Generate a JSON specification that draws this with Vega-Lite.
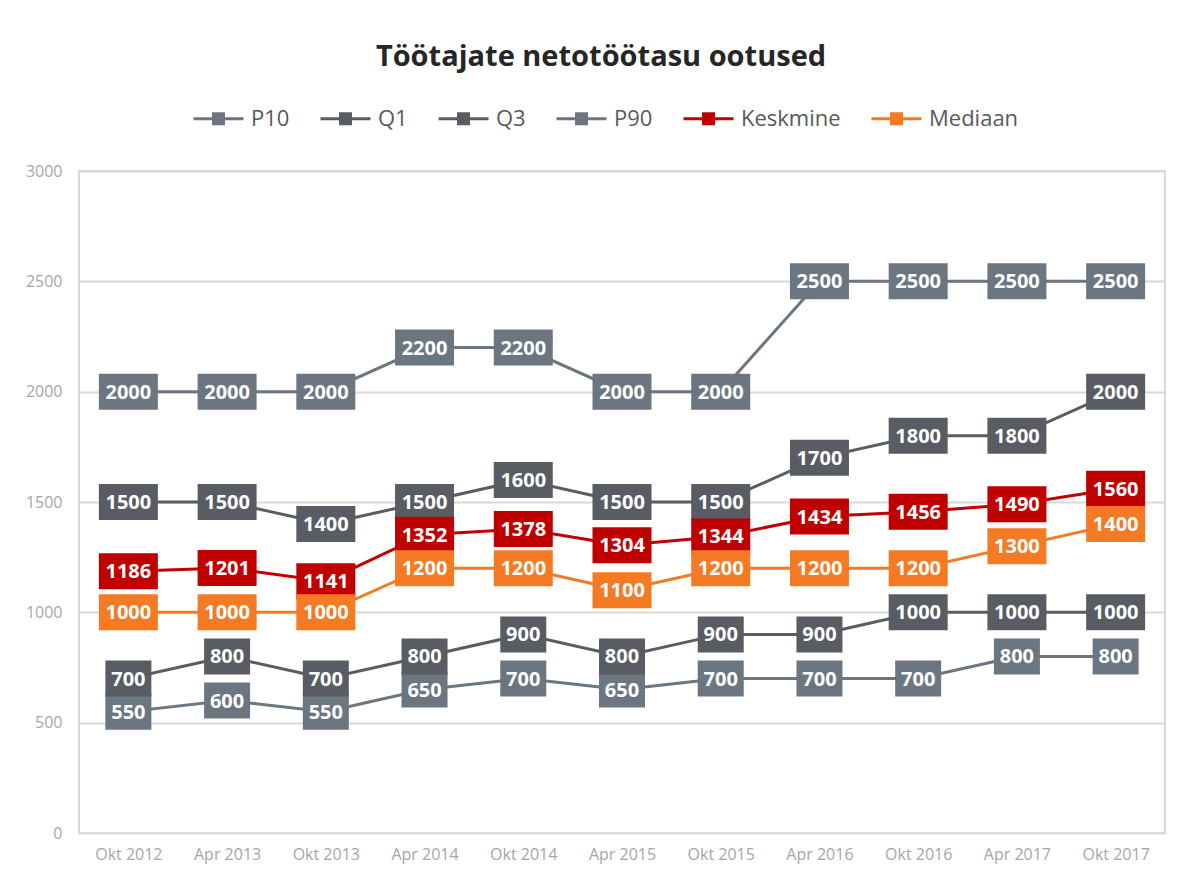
{
  "$schema": "https://vega.github.io/schema/vega-lite/v6.json",
  "width": 1086,
  "height": 662,
  "autosize": "none",
  "padding": {"left": 79, "top": 171, "right": 17, "bottom": 40},
  "background": "white",
  "title": {"text": "Töötajate netotöötasu ootused", "fontSize": 29, "font": "Open Sans", "fontWeight": "bold", "color": "#262626", "anchor": "middle", "offset": 20, "dx": -21},
  "config": {"view": {"stroke": "#d9d9d9", "strokeWidth": 2}, "font": "Open Sans"},
  "datasets": {
    "d": [
      {"period": "Okt 2012", "series": "P10", "value": 550},
      {"period": "Apr 2013", "series": "P10", "value": 600},
      {"period": "Okt 2013", "series": "P10", "value": 550},
      {"period": "Apr 2014", "series": "P10", "value": 650},
      {"period": "Okt 2014", "series": "P10", "value": 700},
      {"period": "Apr 2015", "series": "P10", "value": 650},
      {"period": "Okt 2015", "series": "P10", "value": 700},
      {"period": "Apr 2016", "series": "P10", "value": 700},
      {"period": "Okt 2016", "series": "P10", "value": 700},
      {"period": "Apr 2017", "series": "P10", "value": 800},
      {"period": "Okt 2017", "series": "P10", "value": 800},
      {"period": "Okt 2012", "series": "Q1", "value": 700},
      {"period": "Apr 2013", "series": "Q1", "value": 800},
      {"period": "Okt 2013", "series": "Q1", "value": 700},
      {"period": "Apr 2014", "series": "Q1", "value": 800},
      {"period": "Okt 2014", "series": "Q1", "value": 900},
      {"period": "Apr 2015", "series": "Q1", "value": 800},
      {"period": "Okt 2015", "series": "Q1", "value": 900},
      {"period": "Apr 2016", "series": "Q1", "value": 900},
      {"period": "Okt 2016", "series": "Q1", "value": 1000},
      {"period": "Apr 2017", "series": "Q1", "value": 1000},
      {"period": "Okt 2017", "series": "Q1", "value": 1000},
      {"period": "Okt 2012", "series": "Q3", "value": 1500},
      {"period": "Apr 2013", "series": "Q3", "value": 1500},
      {"period": "Okt 2013", "series": "Q3", "value": 1400},
      {"period": "Apr 2014", "series": "Q3", "value": 1500},
      {"period": "Okt 2014", "series": "Q3", "value": 1600},
      {"period": "Apr 2015", "series": "Q3", "value": 1500},
      {"period": "Okt 2015", "series": "Q3", "value": 1500},
      {"period": "Apr 2016", "series": "Q3", "value": 1700},
      {"period": "Okt 2016", "series": "Q3", "value": 1800},
      {"period": "Apr 2017", "series": "Q3", "value": 1800},
      {"period": "Okt 2017", "series": "Q3", "value": 2000},
      {"period": "Okt 2012", "series": "P90", "value": 2000},
      {"period": "Apr 2013", "series": "P90", "value": 2000},
      {"period": "Okt 2013", "series": "P90", "value": 2000},
      {"period": "Apr 2014", "series": "P90", "value": 2200},
      {"period": "Okt 2014", "series": "P90", "value": 2200},
      {"period": "Apr 2015", "series": "P90", "value": 2000},
      {"period": "Okt 2015", "series": "P90", "value": 2000},
      {"period": "Apr 2016", "series": "P90", "value": 2500},
      {"period": "Okt 2016", "series": "P90", "value": 2500},
      {"period": "Apr 2017", "series": "P90", "value": 2500},
      {"period": "Okt 2017", "series": "P90", "value": 2500},
      {"period": "Okt 2012", "series": "Keskmine", "value": 1186},
      {"period": "Apr 2013", "series": "Keskmine", "value": 1201},
      {"period": "Okt 2013", "series": "Keskmine", "value": 1141},
      {"period": "Apr 2014", "series": "Keskmine", "value": 1352},
      {"period": "Okt 2014", "series": "Keskmine", "value": 1378},
      {"period": "Apr 2015", "series": "Keskmine", "value": 1304},
      {"period": "Okt 2015", "series": "Keskmine", "value": 1344},
      {"period": "Apr 2016", "series": "Keskmine", "value": 1434},
      {"period": "Okt 2016", "series": "Keskmine", "value": 1456},
      {"period": "Apr 2017", "series": "Keskmine", "value": 1490},
      {"period": "Okt 2017", "series": "Keskmine", "value": 1560},
      {"period": "Okt 2012", "series": "Mediaan", "value": 1000},
      {"period": "Apr 2013", "series": "Mediaan", "value": 1000},
      {"period": "Okt 2013", "series": "Mediaan", "value": 1000},
      {"period": "Apr 2014", "series": "Mediaan", "value": 1200},
      {"period": "Okt 2014", "series": "Mediaan", "value": 1200},
      {"period": "Apr 2015", "series": "Mediaan", "value": 1100},
      {"period": "Okt 2015", "series": "Mediaan", "value": 1200},
      {"period": "Apr 2016", "series": "Mediaan", "value": 1200},
      {"period": "Okt 2016", "series": "Mediaan", "value": 1200},
      {"period": "Apr 2017", "series": "Mediaan", "value": 1300},
      {"period": "Okt 2017", "series": "Mediaan", "value": 1400}
    ]
  },
  "data": {"name": "d"},
  "encoding": {
    "x": {
      "field": "period", "type": "ordinal",
      "sort": ["Okt 2012", "Apr 2013", "Okt 2013", "Apr 2014", "Okt 2014", "Apr 2015", "Okt 2015", "Apr 2016", "Okt 2016", "Apr 2017", "Okt 2017"],
      "scale": {"type": "point", "padding": 0.5},
      "axis": {"title": null, "labelAngle": 0, "domain": false, "ticks": false, "grid": false, "labelFontSize": 16, "labelColor": "#a6a6a6", "labelPadding": 13, "labelFont": "Open Sans"}
    },
    "y": {
      "field": "value", "type": "quantitative",
      "scale": {"domain": [0, 3000], "nice": false},
      "axis": {"title": null, "values": [0, 500, 1000, 1500, 2000, 2500, 3000], "format": "d", "domain": false, "ticks": false, "labelFontSize": 16, "labelColor": "#a6a6a6", "labelPadding": 17, "gridColor": "#d9d9d9", "gridWidth": 2, "labelFont": "Open Sans"}
    }
  },
  "layer": [
    {
      "mark": {"type": "line", "strokeWidth": 3},
      "encoding": {
        "color": {
          "field": "series", "type": "nominal",
          "scale": {"domain": ["P10", "Q1", "Q3", "P90", "Keskmine", "Mediaan"], "range": ["#6C7681", "#595C62", "#595C62", "#6C7681", "#C00000", "#F47A24"]},
          "legend": {
            "orient": "none", "legendX": 113, "legendY": -79, "direction": "horizontal", "title": null,
            "symbolType": "M-1,0H1M-0.2,-0.2H0.2V0.2H-0.2Z", "symbolSize": 2500, "symbolStrokeWidth": 3,
            "labelFontSize": 22, "labelColor": "#595959", "labelFont": "Open Sans", "labelOffset": 6, "columnPadding": 24,
            "encode": {"symbols": {"update": {"fill": {"scale": "color", "field": "value"}, "stroke": {"scale": "color", "field": "value"}, "opacity": {"value": 1}}}}
          }
        }
      }
    },
    {
      "mark": {"type": "point", "filled": true, "opacity": 1, "size": 4, "strokeWidth": 0},
      "encoding": {
        "color": {"field": "series", "type": "nominal", "legend": null},
        "shape": {"condition": {"test": "datum.value >= 1000", "value": "M-29.5,-18H29.5V18H-29.5Z"}, "value": "M-23,-18H23V18H-23Z"}
      }
    },
    {
      "mark": {"type": "text", "color": "white", "fontSize": 20, "fontWeight": "bold", "font": "Open Sans", "baseline": "middle", "align": "center", "dy": 1},
      "encoding": {"text": {"field": "value", "type": "quantitative", "format": "d"}, "detail": {"field": "series"}}
    }
  ]
}
